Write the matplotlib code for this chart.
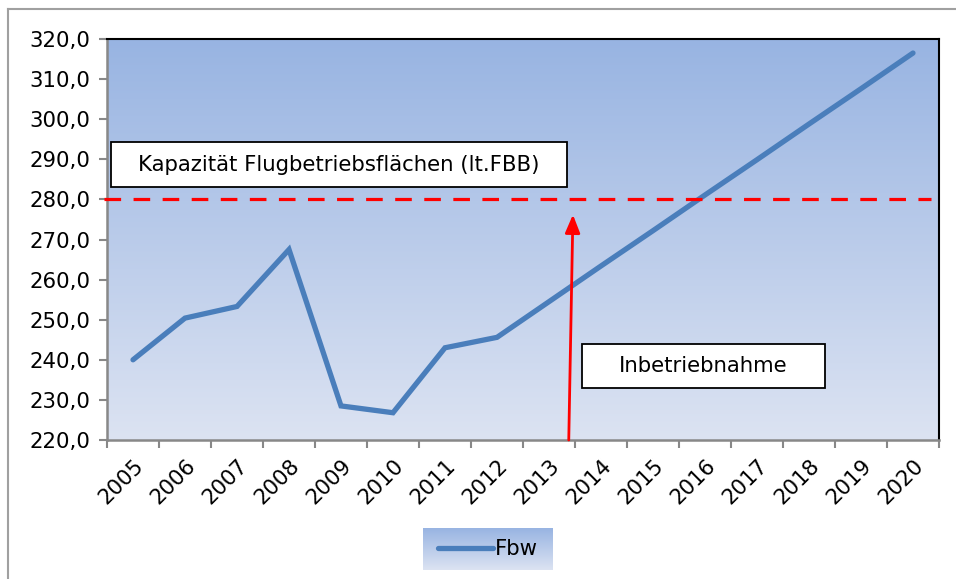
import numpy as np
import matplotlib
matplotlib.use("Agg")
import matplotlib.pyplot as plt
from matplotlib.colors import LinearSegmentedColormap
from matplotlib.patches import Rectangle
from matplotlib.lines import Line2D

# Daten
jahre = ["2005", "2006", "2007", "2008", "2009", "2010", "2011", "2012",
         "2013", "2014", "2015", "2016", "2017", "2018", "2019", "2020"]
fbw = [240.0, 250.4, 253.3, 267.5, 228.5, 226.8, 243.0, 245.6,
       254.5, 263.4, 272.2, 281.1, 289.9, 298.8, 307.6, 316.5]
kapazitaet = 280.0
y_ticks = [220, 230, 240, 250, 260, 270, 280, 290, 300, 310, 320]

plt.rcParams['font.family'] = ['DejaVu Sans']

fig = plt.figure(figsize=(9.56, 5.79), dpi=100)
fig.patch.set_facecolor("white")

# äußerer Rahmen (nur links und oben sichtbar)
fig.add_artist(Line2D([8 / 956, 8 / 956], [0, 1 - 9 / 579], color="#a0a0a0", lw=1.5))
fig.add_artist(Line2D([8 / 956, 1], [1 - 9 / 579, 1 - 9 / 579], color="#a0a0a0", lw=1.5))

ax = fig.add_axes([107 / 956, 139 / 579, 832 / 956, 401 / 579])

# Hintergrund-Verlauf
cmap = LinearSegmentedColormap.from_list("bg", ["#dce3f2", "#98b4e2"])
grad = np.linspace(0, 1, 256).reshape(-1, 1)
ax.imshow(grad, cmap=cmap, aspect="auto", origin="lower",
          extent=[0, 1, 0, 1], transform=ax.transAxes, zorder=0)

x = np.arange(len(jahre))
ax.plot(x, fbw, color="#4a7ebb", lw=3.8, solid_capstyle="round",
        solid_joinstyle="miter", zorder=3, label="Fbw")

ax.axhline(kapazitaet, xmin=-0.004, xmax=0.99, color="#ff0000", lw=2.3,
           dashes=(5.2, 3.9), zorder=4, clip_on=False)

# Pfeil Inbetriebnahme
ax.annotate("", xy=(8.46, 276.2), xytext=(8.38, 220.0),
            arrowprops=dict(arrowstyle="-|>,head_length=1.1,head_width=0.45",
                            color="#ff0000", lw=2.0, shrinkA=0, shrinkB=0),
            zorder=5, annotation_clip=False)

# Textfelder
ax.add_patch(Rectangle((0.005, 0.631), 0.548, 0.112, transform=ax.transAxes,
                       facecolor="white", edgecolor="black", lw=1.3, zorder=6))
ax.text(0.005 + 0.548 / 2, 0.687, "Kapazität Flugbetriebsflächen (lt.FBB)",
        transform=ax.transAxes, ha="center", va="center", fontsize=15.3, zorder=7)
ax.add_patch(Rectangle((0.571, 0.130), 0.292, 0.110, transform=ax.transAxes,
                       facecolor="white", edgecolor="black", lw=1.3, zorder=6))
ax.text(0.571 + 0.292 / 2, 0.185, "Inbetriebnahme",
        transform=ax.transAxes, ha="center", va="center", fontsize=15.3, zorder=7)

ax.set_xlim(-0.5, len(jahre) - 0.5)
ax.set_ylim(220, 320)
ax.set_yticks(y_ticks)
ax.set_yticklabels([f"{v:.1f}".replace(".", ",") for v in y_ticks], fontsize=15.3)

ax.set_xticks(x)
ax.set_xticklabels(jahre, fontsize=15.3, rotation=45, ha="right",
                   rotation_mode="anchor")
ax.set_xticks(np.arange(-0.5, len(jahre)), minor=True)
ax.tick_params(axis="x", which="major", length=0, pad=11)
ax.tick_params(axis="x", which="minor", length=6, color="#888888", width=1.5)
ax.tick_params(axis="y", length=6, color="#888888", width=1.5, pad=6)

for s in ["left", "bottom"]:
    ax.spines[s].set_color("#888888")
    ax.spines[s].set_linewidth(1.8)
for s in ["top", "right"]:
    ax.spines[s].set_color("black")
    ax.spines[s].set_linewidth(1.5)

# Legende mit Verlaufs-Hintergrund
lax = fig.add_axes([423 / 956, 9 / 579, 130 / 956, 42 / 579])
lax.imshow(grad, cmap=cmap, aspect="auto", origin="lower", extent=[0, 1, 0, 1])
lax.axis("off")
handles, labels = ax.get_legend_handles_labels()
fig.legend(handles, labels, loc="center",
           bbox_to_anchor=(488 / 956, 1 - 549 / 579), frameon=False,
           fontsize=15.3, handlelength=2.6, handletextpad=0.1)

fig.savefig("out.png", dpi=100)
